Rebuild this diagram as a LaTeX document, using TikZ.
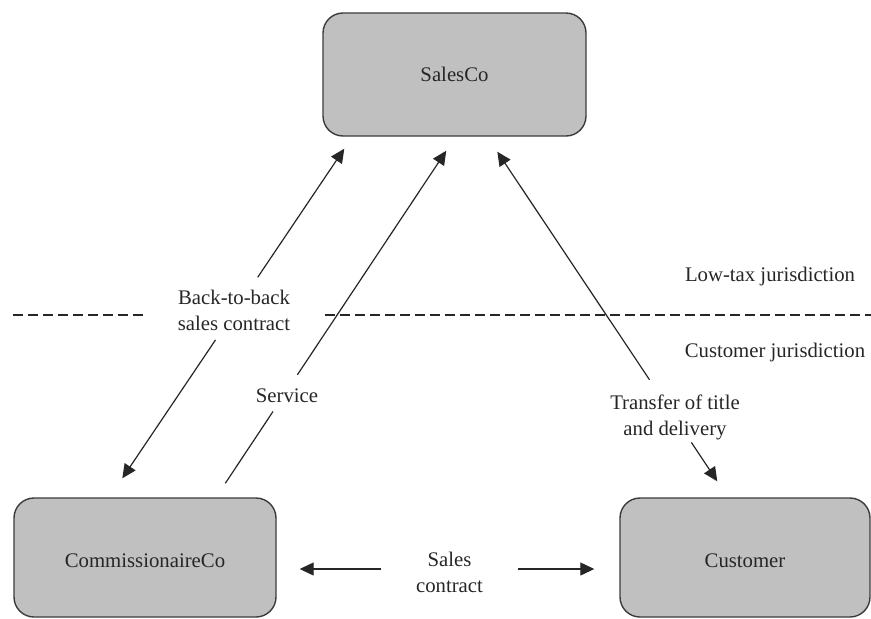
\documentclass[tikz,border=0pt]{standalone}
\usepackage{fontspec}
\setmainfont{Liberation Serif}
\usetikzlibrary{arrows.meta,calc}
\definecolor{boxfill}{HTML}{C0C0C0}
\definecolor{boxline}{HTML}{3C3C3C}
\definecolor{ink}{HTML}{262626}
\begin{document}
\begin{tikzpicture}[x=1pt,y=-1pt,
  font=\fontsize{20.75}{26}\selectfont,
  box/.style={draw=boxline,fill=boxfill,line width=1.4pt,rounded corners=20pt,text=ink,inner sep=0pt},
  lbl/.style={text=ink,align=center,inner sep=0pt},
  conn/.style={draw=ink,line width=1.2pt},
  tip/.style={-{Triangle[length=14pt,width=13pt]}},
  sep/.style={draw=ink,line width=1.1pt,dash pattern=on 10pt off 5pt}]
\useasboundingbox (0,0) rectangle (871,619);
% boxes
\node[box,minimum width=263pt,minimum height=123pt] (sales) at (454.5,74.5) {SalesCo};
\node[box,minimum width=262pt,minimum height=119pt,text height=19.8pt,text depth=0pt] (comm) at (145,557.5) {CommissionaireCo};
\node[box,minimum width=250pt,minimum height=119pt,text height=19.8pt,text depth=0pt] (cust) at (745,557.5) {Customer};
% labels
\node[lbl] (lowtax) at (770,277) {Low-tax jurisdiction};
\node[lbl] (custj) at (775,353) {Customer jurisdiction};
\node[lbl] (b2b) at (234,310) {Back-to-back\\sales contract};
\node[lbl] (srv) at (287,396) {Service};
\node[lbl] (tr) at (675,417) {Transfer of title\\and delivery};
\node[lbl] (sc) at (449.5,572) {Sales\\contract};
% jurisdiction divider
\coordinate (dA) at (13,315);
\coordinate (dB) at (147,315);
\coordinate (dC) at (325,315);
\coordinate (dD) at (871,315);
\draw[sep] (dA) -- (dB);
\draw[sep] (dC) -- (dD);
% connector end points
\coordinate (bbTop) at ($(sales.south west)+(22,12)$);
\coordinate (bbBot) at ($(comm.north west)+(109,-19)$);
\coordinate (svTop) at ($(sales.south west)+(124,14)$);
\coordinate (svBot) at ($(comm.north west)+(212,-14)$);
\coordinate (trTop) at ($(sales.south west)+(175,15)$);
\coordinate (trBot) at ($(cust.north west)+(98,-16)$);
\coordinate (scL) at ($(sc.west)+(-35,-3)$);
\coordinate (scR) at ($(sc.east)+(35,-3)$);
\coordinate (commTip) at ($(comm.east)+(23,11.5)$);
\coordinate (custTip) at ($(cust.west)+(-25,11.5)$);
% connectors
\draw[conn,tip] ($(bbBot)!0.42!(bbTop)$) -- (bbBot);
\draw[conn,tip] ($(bbBot)!0.61!(bbTop)$) -- (bbTop);
\draw[conn] (svBot) -- ($(svBot)!0.216!(svTop)$);
\draw[conn,tip] ($(svBot)!0.326!(svTop)$) -- (svTop);
\draw[conn,tip] ($(trTop)!0.692!(trBot)$) -- (trTop);
\draw[conn,tip] ($(trTop)!0.882!(trBot)$) -- (trBot);
\draw[conn,tip] (scL) -- (commTip);
\draw[conn,tip] (scR) -- (custTip);
\end{tikzpicture}
\end{document}
